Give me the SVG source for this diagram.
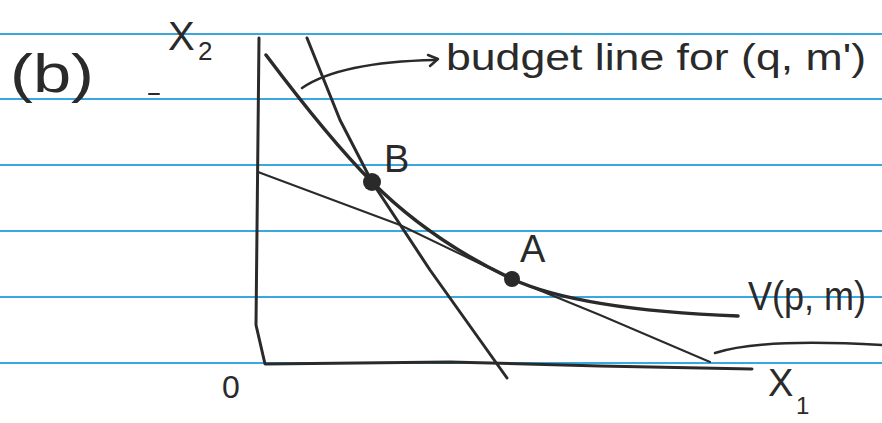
<svg xmlns="http://www.w3.org/2000/svg" width="882" height="423" viewBox="0 0 882 423">
<style>
.rule{stroke:#3aa8e0;stroke-width:2}
.ink{fill:none;stroke:#2a2a2a;stroke-linecap:round;stroke-linejoin:round}
.t{font-family:"Liberation Sans",Arial,sans-serif;fill:#2a2a2a}
</style>
<rect width="882" height="423" fill="#ffffff"/>
<g id="ruling">
<line class="rule" x1="0" y1="34" x2="882" y2="34"/>
<line class="rule" x1="0" y1="99" x2="882" y2="99"/>
<line class="rule" x1="0" y1="165" x2="882" y2="165"/>
<line class="rule" x1="0" y1="231" x2="882" y2="231"/>
<line class="rule" x1="0" y1="297" x2="882" y2="297"/>
<line class="rule" x1="0" y1="363" x2="882" y2="363"/>
</g>
<g id="axes">
<path class="ink" stroke-width="3" d="M259,38 L256,325 L265,364 L450,362 L600,366 L752,369"/>
</g>
<g id="budget-original">
<path class="ink" stroke-width="2" stroke="#444" d="M258,172 L400,225 L512,279 L600,315 L710,362"/>
</g>
<g id="budget-new">
<path class="ink" stroke-width="3" d="M307,38 L340,120 L372,182 L430,270 L507,378"/>
</g>
<g id="indifference">
<path class="ink" stroke-width="3.5" d="M266,55 Q330,140 372,182 Q430,240 512,279 Q580,310 738,316"/>
</g>
<g id="pointB"><circle cx="372" cy="182" r="9" fill="#2a2a2a"/></g>
<g id="pointA"><circle cx="512" cy="279" r="8" fill="#2a2a2a"/></g>
<g id="connectors">
<path class="ink" stroke-width="2.5" d="M302,88 Q340,62 435,60"/>
<path class="ink" stroke-width="2.5" d="M428,55 L438,59 L430,66"/>
<path class="ink" stroke-width="2.5" d="M715,353 Q760,338 882,345"/>
<line class="ink" stroke-width="2" x1="149" y1="94" x2="159" y2="94"/>
</g>
<g id="labels">
<text class="t" x="10" y="92" font-size="54" textLength="84" lengthAdjust="spacingAndGlyphs">(b)</text>
<text class="t" x="168" y="50" font-size="40">X</text>
<text class="t" x="198" y="60" font-size="26">2</text>
<text class="t" x="446" y="70" font-size="36" textLength="420" lengthAdjust="spacingAndGlyphs">budget line for (q, m')</text>
<text class="t" x="384" y="172" font-size="38">B</text>
<text class="t" x="520" y="262" font-size="38">A</text>
<text class="t" x="748" y="310" font-size="40" textLength="118" lengthAdjust="spacingAndGlyphs">V(p, m)</text>
<text class="t" x="768" y="396" font-size="38">X</text>
<text class="t" x="796" y="414" font-size="24">1</text>
<text class="t" x="222" y="398" font-size="32">0</text>
</g>
</svg>
